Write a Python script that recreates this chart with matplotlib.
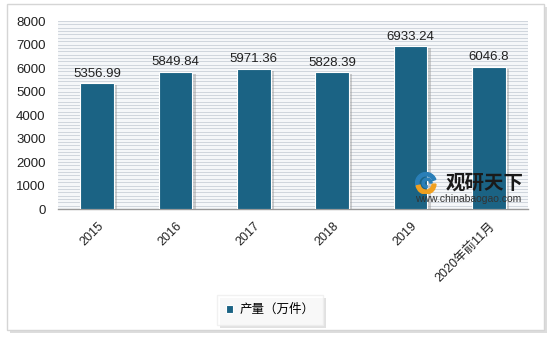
import matplotlib
matplotlib.use("Agg")
import matplotlib.pyplot as plt
import matplotlib.patheffects as pe
from matplotlib.patches import Rectangle, Wedge
import numpy as np

plt.rcParams['font.family'] = ['Liberation Sans', 'Noto Sans CJK SC', 'DejaVu Sans']

categories = ['2015', '2016', '2017', '2018', '2019', '2020年前11月']
values = [5356.99, 5849.84, 5971.36, 5828.39, 6933.24, 6046.8]
value_labels = ['5356.99', '5849.84', '5971.36', '5828.39', '6933.24', '6046.8']
series_name = '产量（万件）'
yticks = [0, 1000, 2000, 3000, 4000, 5000, 6000, 7000, 8000]

bar_color = '#1b6384'

fig = plt.figure(figsize=(5.5, 3.38), dpi=100)
fig.patch.set_facecolor('white')

# outer frame with shadow
shadow = Rectangle((10/550, 1 - 333/338), 537/550, 326/338, transform=fig.transFigure,
                   facecolor='#dddddd', edgecolor='none', zorder=0)
fig.patches.append(shadow)
frame = Rectangle((7/550, 1 - 330/338), 537/550, 326/338, transform=fig.transFigure,
                  facecolor='white', edgecolor='#d5d5d5', linewidth=1.0, zorder=0.5)
fig.patches.append(frame)

ax = fig.add_axes([58/550, 1 - 209/338, 470/550, 188/338])
ax.set_zorder(1)
ax.patch.set_facecolor('#f5f7f9')

# striped background
for y in np.arange(0, 8001, 8000/56):
    ax.axhline(y, color='#c9d0d8', linewidth=0.6, zorder=0)

x = np.arange(len(categories))
bars = ax.bar(x, values, width=0.43, color=bar_color, edgecolor='white', linewidth=0.8, zorder=3,
              label=series_name)
for b in bars:
    b.set_path_effects([pe.SimplePatchShadow(offset=(2.5, -1.5), shadow_rgbFace='#999999', alpha=0.45), pe.Normal()])

for xi, v, lab in zip(x, values, value_labels):
    ax.text(xi, v + 150, lab, ha='center', va='bottom', fontsize=9.5, color='#222222', zorder=4)

ax.set_ylim(0, 8000)
ax.set_xlim(-0.5, len(categories) - 0.5)
ax.set_yticks(yticks)
ax.set_yticklabels([str(t) for t in yticks], fontsize=9.5, color='#222222')
ax.set_xticks(x)
ax.set_xticklabels(categories, rotation=45, ha='right', rotation_mode='anchor', fontsize=9, color='#222222')
ax.tick_params(axis='y', length=0, pad=9)
ax.tick_params(axis='x', length=0, pad=8)
for s in ['top', 'right', 'left']:
    ax.spines[s].set_visible(False)
ax.spines['bottom'].set_color('#999999')
ax.spines['bottom'].set_linewidth(1.0)

# watermark
fig.text(446/550, 1 - 183/338, '观研天下', fontsize=14, fontweight='bold', color='#1a1a1a',
         family=['Noto Sans CJK SC'], va='center', ha='left', zorder=5)
fig.text(468/550, 1 - 199/338, 'www.chinabaogao.com', fontsize=7.5, color='#333333',
         va='center', ha='center', zorder=5)
logo_ax = fig.add_axes([413/550, 1 - 194/338, 26/550, 22/338])
logo_ax.set_zorder(6)
logo_ax.patch.set_alpha(0)
logo_ax.set_xlim(-1, 1)
logo_ax.set_ylim(-1, 1)
logo_ax.set_aspect('equal')
logo_ax.axis('off')
logo_ax.add_patch(Wedge((0, 0), 0.95, 20, 200, width=0.3, color='#2a7fb8'))
logo_ax.add_patch(Wedge((0, -0.1), 0.9, 190, 360, width=0.35, color='#f0a020'))
logo_ax.add_patch(Wedge((0.1, 0), 0.45, 0, 270, width=0.2, color='#2a7fb8'))

# legend
leg = fig.legend(handles=[bars], labels=[series_name], loc='center', bbox_to_anchor=(270/550, 1 - 310/338),
                 frameon=True, fontsize=9, handlelength=0.6, handleheight=0.6, borderpad=0.7,
                 handletextpad=0.5, fancybox=False, shadow=False)
leg.get_frame().set_edgecolor('#eeeeee')
leg.get_frame().set_facecolor('white')
leg.get_frame().set_path_effects([pe.SimplePatchShadow(offset=(2, -2), shadow_rgbFace='#aaaaaa', alpha=0.35), pe.Normal()])
for h in leg.legend_handles:
    h.set_path_effects([])

fig.savefig('out.png', dpi=100, facecolor='white')
